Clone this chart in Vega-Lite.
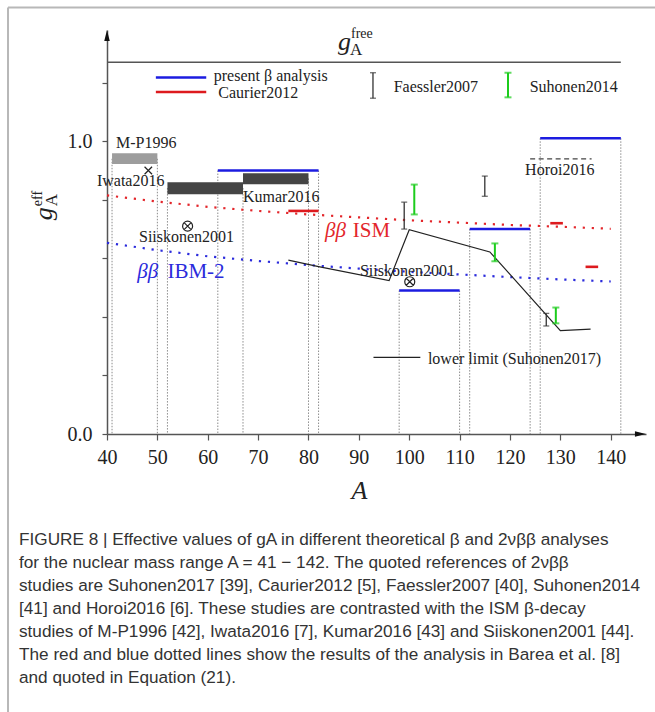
{
"$schema":"https://vega.github.io/schema/vega-lite/v6.json",
"width":539,"height":404,
"autosize":{"type":"none"},
"padding":{"left":107,"top":30,"right":9,"bottom":278},
"background":"white",
"config":{"view":{"stroke":null},"axis":{"grid":false},"text":{"font":"Liberation Serif"}},
"title":{"text":["FIGURE 8 | Effective values of gA in different theoretical β and 2νββ analyses","for the nuclear mass range A = 41 − 142. The quoted references of 2νββ","studies are Suhonen2017 [39], Caurier2012 [5], Faessler2007 [40], Suhonen2014","[41] and Horoi2016 [6]. These studies are contrasted with the ISM β-decay","studies of M-P1996 [42], Iwata2016 [7], Kumar2016 [43] and Siiskonen2001 [44].","The red and blue dotted lines show the results of the analysis in Barea et al. [8]","and quoted in Equation (21)."],"orient":"bottom","anchor":"start","frame":"group","dx":-88,"offset":-183,"font":"Liberation Sans","fontSize":17.2,"fontWeight":"normal","color":"#333","lineHeight":23,"baseline":"top"},
"resolve":{"scale":{"color":"independent","shape":"independent","size":"independent"}},
"datasets":{
"dotted":[{"A":41,"top":0.94},{"A":50,"top":0.94},{"A":52,"top":0.84},{"A":62,"top":0.9},{"A":67,"top":0.84},{"A":80,"top":0.873},{"A":82,"top":0.9},{"A":98,"top":0.49},{"A":110,"top":0.49},{"A":112,"top":0.7},{"A":124,"top":0.7},{"A":126,"top":1.01},{"A":142,"top":1.01}],
"bars":[{"study":"M-P1996","A1":41,"A2":50,"lo":0.922,"hi":0.959},{"study":"Kumar2016","A1":52,"A2":67,"lo":0.819,"hi":0.86},{"study":"Kumar2016","A1":67,"A2":80,"lo":0.853,"hi":0.891}],
"segs":[{"src":"present","A1":62,"A2":82,"v":0.9},{"src":"present","A1":98,"A2":110,"v":0.49},{"src":"present","A1":112,"A2":124,"v":0.7},{"src":"present","A1":126,"A2":142,"v":1.01},{"src":"present","A1":49.7,"A2":59.7,"v":1.218},{"src":"Caurier","A1":76,"A2":82,"v":0.762},{"src":"Caurier","A1":128,"A2":130.5,"v":0.72},{"src":"Caurier","A1":135,"A2":137.5,"v":0.571},{"src":"Caurier","A1":49.7,"A2":59.7,"v":1.168}],
"barea":[{"model":"ISM","A":40,"v":0.815},{"model":"ISM","A":50,"v":0.794},{"model":"ISM","A":60,"v":0.776},{"model":"ISM","A":70,"v":0.762},{"model":"ISM","A":80,"v":0.75},{"model":"ISM","A":90,"v":0.74},{"model":"ISM","A":100,"v":0.73},{"model":"ISM","A":110,"v":0.722},{"model":"ISM","A":120,"v":0.714},{"model":"ISM","A":130,"v":0.708},{"model":"ISM","A":140,"v":0.701},{"model":"IBM-2","A":40,"v":0.653},{"model":"IBM-2","A":50,"v":0.628},{"model":"IBM-2","A":60,"v":0.607},{"model":"IBM-2","A":70,"v":0.591},{"model":"IBM-2","A":80,"v":0.577},{"model":"IBM-2","A":90,"v":0.565},{"model":"IBM-2","A":100,"v":0.554},{"model":"IBM-2","A":110,"v":0.545},{"model":"IBM-2","A":120,"v":0.536},{"model":"IBM-2","A":130,"v":0.528},{"model":"IBM-2","A":140,"v":0.521}],
"lower":[{"series":"limit","A":76,"v":0.594},{"series":"limit","A":82,"v":0.572},{"series":"limit","A":96,"v":0.524},{"series":"limit","A":100,"v":0.698},{"series":"limit","A":116,"v":0.622},{"series":"limit","A":130,"v":0.353},{"series":"limit","A":136,"v":0.358},{"series":"key","A":92.9,"v":0.262},{"series":"key","A":102.2,"v":0.262}],
"faessler":[{"A":99,"lo":0.7,"hi":0.792},{"A":115,"lo":0.812,"hi":0.881},{"A":127.2,"lo":0.369,"hi":0.412},{"A":92.8,"lo":1.147,"hi":1.234}],
"suhonen":[{"A":101,"lo":0.75,"hi":0.852},{"A":117,"lo":0.59,"hi":0.651},{"A":129.1,"lo":0.378,"hi":0.432},{"A":119.6,"lo":1.15,"hi":1.234}],
"symbols":[{"kind":"cross","A":48.2,"v":0.9},{"kind":"otimes","A":56,"v":0.71},{"kind":"otimes","A":100.1,"v":0.52}],
"arrows":[{"dir":"up","A":40,"v":1.361},{"dir":"right","A":145.9,"v":0}],
"notes":[{"label":"M-P1996","A":41.8,"v":0.993},{"label":"Iwata2016","A":38.0,"v":0.863},{"label":"Kumar2016","A":67.0,"v":0.81},{"label":"Siiskonen2001","A":46.35,"v":0.673},{"label":"Siiskonen2001","A":90.2,"v":0.556},{"label":"Horoi2016","A":123.0,"v":0.903},{"label":"present β analysis","A":61.2,"v":1.222},{"label":"Caurier2012","A":62.1,"v":1.165},{"label":"Faessler2007","A":96.9,"v":1.186},{"label":"Suhonen2014","A":123.9,"v":1.186},{"label":"lower limit (Suhonen2017)","A":103.7,"v":0.257}],
"bbgreek":[{"model":"ISM","A":83.3,"v":0.695,"t":"ββ"},{"model":"IBM-2","A":46.0,"v":0.554,"t":"ββ"}],
"bbname":[{"model":"ISM","A":88.8,"v":0.695,"t":"ISM"},{"model":"IBM-2","A":52.0,"v":0.554,"t":"IBM-2"}]
},
"layer":[
{"data":{"values":[{}]},"mark":{"type":"rule","color":"#b8b8b8","strokeWidth":2},"encoding":{"x":{"datum":20.35,"type":"quantitative"},"x2":{"datum":150},"y":{"datum":1.457,"type":"quantitative"}}},
{"data":{"values":[{}]},"mark":{"type":"rule","color":"#b8b8b8","strokeWidth":2},"encoding":{"x":{"datum":20.35,"type":"quantitative"},"y":{"datum":1.457,"type":"quantitative"},"y2":{"datum":-0.952}}},
{"data":{"name":"dotted"},"mark":{"type":"rule","color":"#8c8c8c","strokeWidth":1,"strokeDash":[1.5,1.5]},
 "encoding":{
  "x":{"field":"A","type":"quantitative","scale":{"domain":[40,147],"nice":false,"zero":false},
   "axis":{"values":[40,50,60,70,80,90,100,110,120,130,140],"format":"d","title":"A","titleFont":"Liberation Serif","titleFontStyle":"italic","titleFontWeight":"normal","titleFontSize":26,"titleColor":"#222","titleX":252,"titleY":56,"titleBaseline":"middle","titleAnchor":"middle","labelFont":"Liberation Serif","labelFontSize":20,"labelColor":"#222","labelPadding":7,"tickSize":6,"tickColor":"#555","tickWidth":1.2,"domainColor":"#555","domainWidth":1.5,"labelFlush":false,"labelOverlap":false}},
  "y":{"field":"top","type":"quantitative","scale":{"domain":[0,1.38],"nice":false,"zero":false},
   "axis":{"values":[0,0.1,0.2,0.3,0.4,0.5,0.6,0.7,0.8,0.9,1,1.1,1.2,1.3],"labelExpr":"datum.value == 0 || datum.value == 0.5 || datum.value == 1 ? format(datum.value, '.1f') : ''","title":null,"labelFont":"Liberation Serif","labelFontSize":20,"labelColor":"#222","labelPadding":10,"tickSize":5,"tickColor":"#555","tickWidth":1.2,"domainColor":"#555","domainWidth":1.5,"labelFlush":false,"labelOverlap":false}},
  "y2":{"datum":0}}},
{"data":{"name":"bars"},"mark":{"type":"rect"},"encoding":{"x":{"field":"A1","type":"quantitative"},"x2":{"field":"A2"},"y":{"field":"lo","type":"quantitative"},"y2":{"field":"hi"},"color":{"field":"study","type":"nominal","scale":{"domain":["M-P1996","Kumar2016"],"range":["#9d9d9d","#454545"]},"legend":null}}},
{"data":{"name":"barea"},"mark":{"type":"line","strokeWidth":2.2,"strokeDash":[2.2,6.8],"strokeCap":"butt"},"encoding":{"x":{"field":"A","type":"quantitative"},"y":{"field":"v","type":"quantitative"},"color":{"field":"model","type":"nominal","scale":{"domain":["ISM","IBM-2"],"range":["#e3262b","#2b2bdc"]},"legend":null}}},
{"data":{"name":"segs"},"mark":{"type":"rule","strokeWidth":2.6},"encoding":{"x":{"field":"A1","type":"quantitative"},"x2":{"field":"A2"},"y":{"field":"v","type":"quantitative"},"color":{"field":"src","type":"nominal","scale":{"domain":["present","Caurier"],"range":["#1c1ce0","#dd1a1e"]},"legend":null}}},
{"data":{"values":[{"A1":124,"A2":136.2,"v":0.94}]},"mark":{"type":"rule","color":"#444","strokeWidth":1.2,"strokeDash":[5,3.5]},"encoding":{"x":{"field":"A1","type":"quantitative"},"x2":{"field":"A2"},"y":{"field":"v","type":"quantitative"}}},
{"data":{"name":"lower"},"mark":{"type":"line","color":"#222","strokeWidth":1.2},"encoding":{"x":{"field":"A","type":"quantitative"},"y":{"field":"v","type":"quantitative"},"detail":{"field":"series"}}},
{"data":{"name":"faessler"},"mark":{"type":"errorbar","ticks":true,"size":6,"thickness":1.3,"color":"#333"},"encoding":{"x":{"field":"A","type":"quantitative"},"y":{"field":"lo","type":"quantitative"},"y2":{"field":"hi"}}},
{"data":{"name":"suhonen"},"mark":{"type":"errorbar","ticks":true,"size":7,"thickness":2,"color":"#1ccc1c"},"encoding":{"x":{"field":"A","type":"quantitative"},"y":{"field":"lo","type":"quantitative"},"y2":{"field":"hi"}}},
{"data":{"name":"symbols"},"mark":{"type":"point","filled":false,"stroke":"#222","strokeWidth":1.2,"opacity":1},"encoding":{"x":{"field":"A","type":"quantitative"},"y":{"field":"v","type":"quantitative"},"shape":{"field":"kind","type":"nominal","scale":{"domain":["cross","otimes"],"range":["M-1,-1L1,1M-1,1L1,-1","M1,0A1,1,0,1,1,-1,0A1,1,0,1,1,1,0ZM-0.7,-0.7L0.7,0.7M-0.7,0.7L0.7,-0.7"]},"legend":null},"size":{"field":"kind","type":"ordinal","scale":{"domain":["cross","otimes"],"range":[56,100]},"legend":null}}},
{"data":{"name":"arrows"},"mark":{"type":"point","filled":true,"color":"#111","opacity":1,"size":121},"encoding":{"x":{"field":"A","type":"quantitative"},"y":{"field":"v","type":"quantitative"},"shape":{"field":"dir","type":"nominal","scale":{"domain":["up","right"],"range":["M0,-1L-0.5,1L0.5,1Z","M1,0L-1,-0.5L-1,0.5Z"]},"legend":null}}},
{"data":{"values":[{"A1":40,"A2":142,"v":1.27}]},"mark":{"type":"rule","color":"#555","strokeWidth":1.5},"encoding":{"x":{"field":"A1","type":"quantitative"},"x2":{"field":"A2"},"y":{"field":"v","type":"quantitative"}}},
{"data":{"name":"notes"},"mark":{"type":"text","align":"left","baseline":"middle","font":"Liberation Serif","fontSize":16,"color":"#222"},"encoding":{"x":{"field":"A","type":"quantitative"},"y":{"field":"v","type":"quantitative"},"text":{"field":"label"}}},
{"data":{"name":"bbgreek"},"mark":{"type":"text","align":"left","baseline":"middle","font":"Liberation Serif","fontStyle":"italic","fontSize":21},"encoding":{"x":{"field":"A","type":"quantitative"},"y":{"field":"v","type":"quantitative"},"text":{"field":"t"},"color":{"field":"model","type":"nominal","scale":{"domain":["ISM","IBM-2"],"range":["#e3262b","#2b2bdc"]},"legend":null}}},
{"data":{"name":"bbname"},"mark":{"type":"text","align":"left","baseline":"middle","font":"Liberation Serif","fontSize":21},"encoding":{"x":{"field":"A","type":"quantitative"},"y":{"field":"v","type":"quantitative"},"text":{"field":"t"},"color":{"field":"model","type":"nominal","scale":{"domain":["ISM","IBM-2"],"range":["#e3262b","#2b2bdc"]},"legend":null}}},
{"data":{"values":[{"A":85.86,"v":1.3106,"t":"g"}]},"mark":{"type":"text","align":"left","baseline":"alphabetic","font":"Liberation Serif","fontStyle":"italic","fontSize":26,"color":"#222"},"encoding":{"x":{"field":"A","type":"quantitative"},"y":{"field":"v","type":"quantitative"},"text":{"field":"t"}}},
{"data":{"values":[{"A":88.24,"v":1.2935,"t":"A"}]},"mark":{"type":"text","align":"left","baseline":"alphabetic","font":"Liberation Serif","fontSize":17,"color":"#222"},"encoding":{"x":{"field":"A","type":"quantitative"},"y":{"field":"v","type":"quantitative"},"text":{"field":"t"}}},
{"data":{"values":[{"A":88.44,"v":1.352,"t":"free"}]},"mark":{"type":"text","align":"left","baseline":"alphabetic","font":"Liberation Serif","fontSize":14,"color":"#222"},"encoding":{"x":{"field":"A","type":"quantitative"},"y":{"field":"v","type":"quantitative"},"text":{"field":"t"}}},
{"data":{"values":[{"A":29.08,"v":0.73,"t":"g"}]},"mark":{"type":"text","align":"left","baseline":"alphabetic","angle":270,"font":"Liberation Serif","fontStyle":"italic","fontSize":26,"color":"#222"},"encoding":{"x":{"field":"A","type":"quantitative"},"y":{"field":"v","type":"quantitative"},"text":{"field":"t"}}},
{"data":{"values":[{"A":30.07,"v":0.778,"t":"A"}]},"mark":{"type":"text","align":"left","baseline":"alphabetic","angle":270,"font":"Liberation Serif","fontSize":17,"color":"#222"},"encoding":{"x":{"field":"A","type":"quantitative"},"y":{"field":"v","type":"quantitative"},"text":{"field":"t"}}},
{"data":{"values":[{"A":27.1,"v":0.778,"t":"eff"}]},"mark":{"type":"text","align":"left","baseline":"alphabetic","angle":270,"font":"Liberation Serif","fontSize":14,"color":"#222"},"encoding":{"x":{"field":"A","type":"quantitative"},"y":{"field":"v","type":"quantitative"},"text":{"field":"t"}}}
]
}
